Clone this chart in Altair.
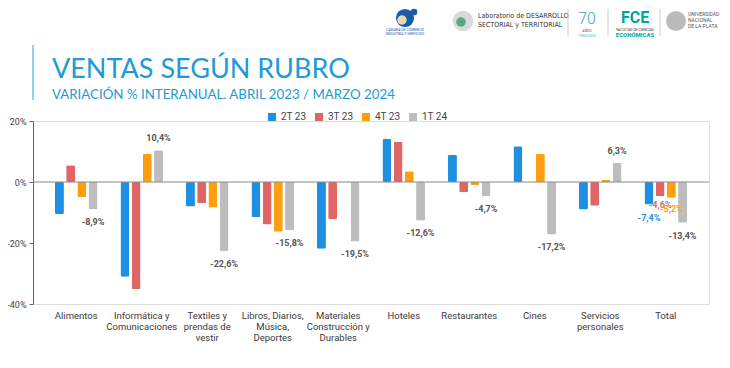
import altair as alt
import pandas as pd

categories = ["Alimentos", "Informática y\nComunicaciones", "Textiles y\nprendas de\nvestir",
              "Libros, Diarios,\nMúsica,\nDeportes", "Materiales\nConstrucción y\nDurables",
              "Hoteles", "Restaurantes", "Cines", "Servicios\npersonales", "Total"]
series = ["2T 23", "3T 23", "4T 23", "1T 24"]
colors = ["#1E8FE1", "#E06666", "#FF9F0F", "#BDBDBD"]
label_colors = ["#1E8FE1", "#E06666", "#FF9F0F", "#555555"]

v_2t23 = [-10.5, -31.1, -8.0, -11.5, -21.9, 14.1, 8.9, 11.7, -9.0, -7.4]
v_3t23 = [5.5, -35.1, -7.0, -13.9, -12.1, 13.2, -3.4, None, -7.8, -4.6]
v_4t23 = [-4.9, 9.3, -8.4, -16.3, None, 3.5, -1.0, 9.2, 0.7, -5.2]
v_1t24 = [-8.9, 10.4, -22.6, -15.8, -19.5, -12.6, -4.7, -17.2, 6.3, -13.4]

title = "VENTAS SEGÚN RUBRO"
subtitle = "VARIACIÓN % INTERANUAL. ABRIL 2023 / MARZO 2024"

rows = []
for s, vals, lc in zip(series, [v_2t23, v_3t23, v_4t23, v_1t24], label_colors):
    for c, v in zip(categories, vals):
        if v is not None:
            rows.append({"cat": c, "serie": s, "v": v, "lc": lc})
df = pd.DataFrame(rows)

W, H = 676, 183
FONT = "Roboto"

x_enc = alt.X("cat:N", sort=categories,
              scale=alt.Scale(paddingInner=0.35, paddingOuter=0.335),
              axis=alt.Axis(title=None, domain=False, ticks=False, labelAngle=0,
                            labelExpr="split(datum.label, '\\n')", labelFont=FONT,
                            labelFontSize=9.5, labelColor="#3a3a3a", labelLineHeight=11,
                            labelPadding=6, labelBaseline="top"))
xo_enc = alt.XOffset("serie:N", sort=series, scale=alt.Scale(paddingInner=0.2, paddingOuter=0))
y_enc = alt.Y("v:Q", scale=alt.Scale(domain=[-40, 20], nice=False, zero=False),
              axis=alt.Axis(title=None, values=[20, 0, -20, -40], grid=False,
                            labelExpr="datum.value + '%'", labelFont=FONT, labelFontSize=9,
                            labelColor="#444444", domainColor="#666666", tickColor="#666666",
                            tickSize=4, labelPadding=3))

base = alt.Chart(df)

bars = base.mark_bar(cornerRadius=1.5).encode(
    x=x_enc, xOffset=xo_enc, y=y_enc,
    color=alt.Color("serie:N", sort=series, scale=alt.Scale(domain=series, range=colors),
                    legend=alt.Legend(title=None, orient="none", legendX=234, legendY=-9,
                                      direction="horizontal", symbolType="square",
                                      symbolSize=64, symbolStrokeWidth=0,
                                      labelFont=FONT, labelFontSize=10, labelColor="#444444",
                                      labelOffset=4, columnPadding=7)),
)

zero = alt.Chart(pd.DataFrame({"z": [0]})).mark_rule(color="#888888", strokeWidth=1).encode(
    y=alt.Y("z:Q", scale=alt.Scale(domain=[-40, 20], nice=False)))

lbl_expr = "(datum.v < 0 ? '-' : '') + replace(format(abs(datum.v), '.1f'), '.', ',') + '%'"
show = "datum.serie == '1T 24' || datum.cat == 'Total'"


def lbl(filt, dy):
    return base.transform_filter(filt).transform_calculate(t=lbl_expr).mark_text(
        font=FONT, fontSize=9, fontWeight="bold", dy=dy, baseline="middle").encode(
        x=alt.X("cat:N", sort=categories), xOffset=alt.XOffset("serie:N", sort=series),
        y=alt.Y("v:Q"), text="t:N", color=alt.Color("lc:N", scale=None))


labels = [
    lbl(f"({show}) && datum.v >= 0", -12),
    lbl(f"({show}) && datum.v < 0 && datum.serie != '3T 23' && datum.serie != '4T 23'", 13),
    lbl(f"({show}) && datum.v < 0 && datum.serie == '3T 23'", 9),
    lbl(f"({show}) && datum.v < 0 && datum.serie == '4T 23'", 11),
]

one = pd.DataFrame({"a": [0]})


def txt(s, px, py, size, color, weight="normal", font=FONT, align="left"):
    return alt.Chart(one).mark_text(text=s, fontSize=size, color=color, fontWeight=weight,
                                    font=font, align=align, baseline="alphabetic").encode(
        x=alt.value(px - 33), y=alt.value(py - 121))


def dot(px, py, size, color, opacity=1.0):
    return alt.Chart(one).mark_circle(size=size, color=color, opacity=opacity).encode(
        x=alt.value(px - 33), y=alt.value(py - 121))


def vline(px, y1, y2, color, w=1.0):
    return alt.Chart(one).mark_rule(color=color, strokeWidth=w).encode(
        x=alt.value(px - 33), y=alt.value(y1 - 121), y2=alt.value(y2 - 121))


TBLUE = "#1E9AD6"
COND = "DejaVu Sans Condensed, DejaVu Sans"
deco = [
    vline(33, 45, 100, "#6FC0E8", 1.5),
    txt(title, 52, 78, 27, TBLUE, font="Lato"),
    txt(subtitle, 52, 99, 13.3, TBLUE, font="Lato"),
    # logos (approximate)
    dot(405, 18, 330, "#1B5AA6"),
    dot(402, 20, 90, "#E8D9B0"),
    dot(414, 12, 45, "#1B5AA6"),
    txt("CÁMARA DE COMERCIO", 405, 31, 3.5, "#1B5AA6", align="center"),
    txt("INDUSTRIA Y SERVICIOS", 405, 35, 3.5, "#1B5AA6", align="center"),
    dot(463, 21, 420, "#D9D9D9"),
    dot(461, 22, 90, "#2E9E6A", 0.8),
    txt("Laboratorio de DESARROLLO", 478, 18, 7, "#333333", font=COND),
    txt("SECTORIAL y TERRITORIAL", 478, 27, 7, "#333333", font=COND),
    vline(568, 9, 36, "#CCCCCC"),
    txt("70", 587, 24, 16, "#3FA6A6", weight=300, align="center"),
    txt("AÑOS", 587, 32, 3.5, "#C2185B", align="center"),
    txt("1953•2023", 587, 37, 3.5, "#3FA6A6", align="center"),
    vline(608, 9, 36, "#CCCCCC"),
    txt("FCE", 635, 23, 16, "#00A69C", weight="bold", align="center"),
    txt("FACULTAD DE CIENCIAS", 635, 30.5, 3.5, "#333333", align="center"),
    txt("ECONÓMICAS", 635, 37, 6, "#00A69C", weight="bold", align="center"),
    vline(660, 9, 36, "#CCCCCC"),
    dot(676, 21, 400, "#9E9E9E", 0.7),
    txt("UNIVERSIDAD", 688, 16, 5, "#555555"),
    txt("NACIONAL", 688, 22, 5, "#555555"),
    txt("DE LA PLATA", 688, 28, 5, "#555555"),
]

chart = alt.layer(bars, zero, *labels, *deco).properties(
    width=W, height=H,
    autosize=alt.AutoSizeParams(type="none"),
    padding={"left": 25, "top": 113, "right": 13, "bottom": 50},
).configure_view(stroke=None).configure(background="white")

chart.save("out.html", embed_options={"renderer": "svg", "actions": False})
